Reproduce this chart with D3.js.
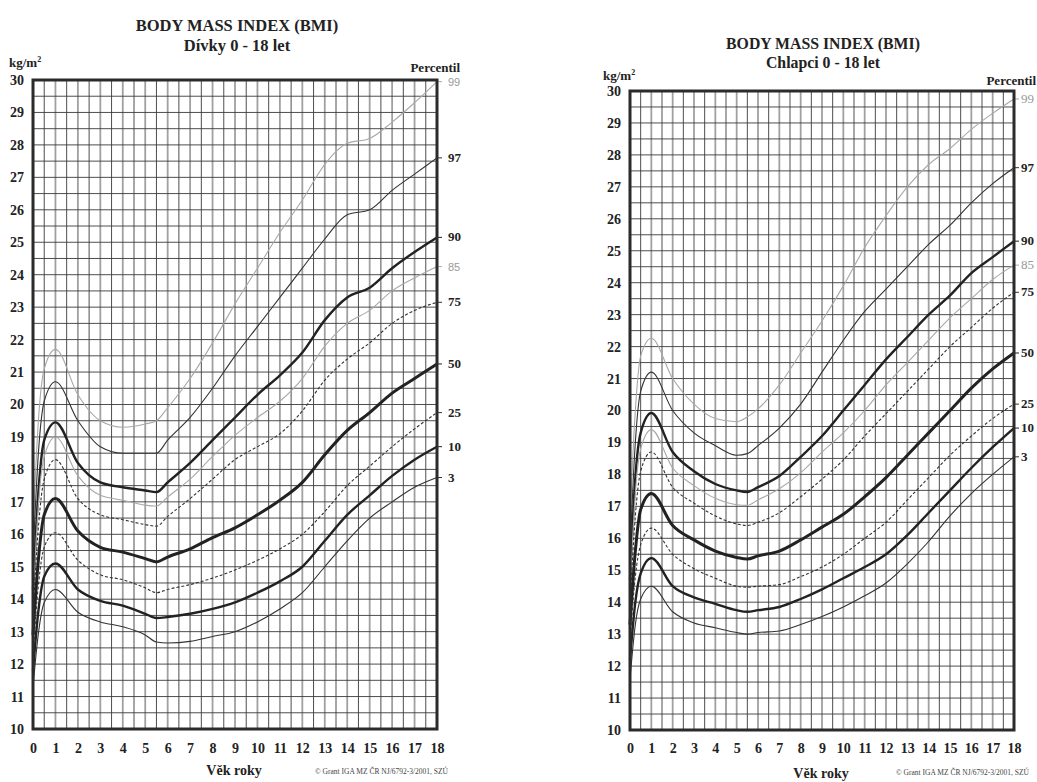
<!DOCTYPE html>
<html>
<head>
<meta charset="utf-8">
<script src="https://cdn.jsdelivr.net/npm/d3@7"></script>
<style>
  body { margin: 0; background: #fff; }
</style>
</head>
<body>
<script>
var ages = [0, 0.25, 0.5, 1, 2, 3, 4, 5, 5.5, 6, 7, 8, 9, 10, 11, 12, 13, 14, 15, 16, 17, 18];
var percentiles = [99, 97, 90, 85, 75, 50, 25, 10, 3];
var xTicks = d3.range(0, 19);
var yTicks = d3.range(10, 31);

// girls - Dívky
var girlsP99 = [16.2, 19.6, 21.1, 21.7, 20.3, 19.5, 19.3, 19.4, 19.5, 19.9, 20.8, 21.9, 23.1, 24.2, 25.3, 26.3, 27.4, 28.05, 28.2, 28.7, 29.3, 29.95];
var girlsP97 = [15.3, 18.6, 20.1, 20.7, 19.5, 18.7, 18.5, 18.5, 18.5, 18.9, 19.6, 20.5, 21.5, 22.4, 23.3, 24.2, 25.1, 25.85, 26.0, 26.6, 27.1, 27.6];
var girlsP90 = [14.3, 17.4, 18.9, 19.45, 18.2, 17.6, 17.45, 17.35, 17.3, 17.6, 18.2, 18.9, 19.6, 20.3, 20.9, 21.6, 22.6, 23.3, 23.6, 24.2, 24.7, 25.15];
var girlsP85 = [14.0, 17.0, 18.4, 19.0, 17.8, 17.2, 17.05, 16.9, 16.87, 17.15, 17.7, 18.4, 19.05, 19.6, 20.1, 20.8, 21.8, 22.5, 22.9, 23.5, 23.9, 24.25];
var girlsP75 = [13.5, 16.3, 17.7, 18.3, 17.1, 16.6, 16.45, 16.3, 16.25, 16.55, 17.1, 17.7, 18.3, 18.7, 19.1, 19.8, 20.75, 21.4, 21.9, 22.5, 22.9, 23.15];
var girlsP50 = [12.9, 15.3, 16.6, 17.1, 16.1, 15.6, 15.45, 15.25, 15.15, 15.3, 15.55, 15.9, 16.2, 16.6, 17.05, 17.6, 18.45, 19.2, 19.75, 20.35, 20.8, 21.25];
var girlsP25 = [12.3, 14.5, 15.6, 16.05, 15.2, 14.75, 14.6, 14.35, 14.2, 14.3, 14.45, 14.65, 14.9, 15.2, 15.55, 16.0, 16.7, 17.5, 18.1, 18.7, 19.25, 19.75];
var girlsP10 = [11.8, 13.7, 14.7, 15.1, 14.3, 13.95, 13.8, 13.55, 13.42, 13.45, 13.55, 13.7, 13.9, 14.2, 14.55, 15.0, 15.8, 16.6, 17.2, 17.8, 18.3, 18.7];
var girlsP3  = [11.3, 13.0, 13.9, 14.3, 13.6, 13.3, 13.15, 12.9, 12.68, 12.65, 12.7, 12.85, 13.0, 13.3, 13.7, 14.2, 15.0, 15.8, 16.5, 17.0, 17.45, 17.75];

// boys - Chlapci
var boysP99 = [16.6, 20.0, 21.7, 22.26, 21.0, 20.2, 19.75, 19.65, 19.8, 20.05, 20.8, 21.8, 22.8, 23.9, 25.1, 26.1, 27.0, 27.7, 28.2, 28.8, 29.3, 29.75];
var boysP97 = [15.6, 19.0, 20.6, 21.2, 20.0, 19.3, 18.9, 18.6, 18.65, 18.9, 19.45, 20.2, 21.2, 22.2, 23.1, 23.8, 24.5, 25.2, 25.8, 26.5, 27.1, 27.6];
var boysP90 = [14.7, 17.9, 19.3, 19.92, 18.7, 18.1, 17.7, 17.5, 17.45, 17.6, 17.95, 18.55, 19.2, 20.0, 20.8, 21.6, 22.3, 23.0, 23.6, 24.3, 24.8, 25.3];
var boysP85 = [14.3, 17.4, 18.8, 19.4, 18.2, 17.65, 17.25, 17.05, 17.03, 17.2, 17.55, 18.05, 18.7, 19.3, 20.0, 20.8, 21.5, 22.2, 22.9, 23.5, 24.1, 24.55];
var boysP75 = [13.9, 16.7, 18.1, 18.7, 17.6, 17.1, 16.7, 16.45, 16.4, 16.5, 16.8, 17.3, 17.85, 18.45, 19.2, 19.9, 20.6, 21.3, 22.0, 22.6, 23.2, 23.7];
var boysP50 = [13.3, 15.6, 16.9, 17.4, 16.4, 15.95, 15.6, 15.4, 15.35, 15.45, 15.6, 15.95, 16.35, 16.75, 17.3, 17.9, 18.6, 19.3, 20.0, 20.7, 21.3, 21.8];
var boysP25 = [12.8, 14.8, 15.8, 16.32, 15.5, 15.05, 14.75, 14.5, 14.47, 14.5, 14.55, 14.8, 15.1, 15.5, 16.0, 16.5, 17.2, 17.9, 18.6, 19.2, 19.75, 20.2];
var boysP10 = [12.2, 14.0, 14.9, 15.38, 14.5, 14.15, 13.95, 13.75, 13.7, 13.75, 13.85, 14.1, 14.4, 14.75, 15.1, 15.5, 16.1, 16.8, 17.5, 18.2, 18.85, 19.45];
var boysP3  = [11.6, 13.3, 14.1, 14.5, 13.7, 13.35, 13.2, 13.05, 13.0, 13.05, 13.1, 13.3, 13.55, 13.85, 14.2, 14.6, 15.2, 15.9, 16.7, 17.4, 18.0, 18.55];

var girls = [girlsP99, girlsP97, girlsP90, girlsP85, girlsP75, girlsP50, girlsP25, girlsP10, girlsP3];
var boys = [boysP99, boysP97, boysP90, boysP85, boysP75, boysP50, boysP25, boysP10, boysP3];

// line look per percentile
var lineStyle = {
  99: {stroke: "#a8a8a8", width: 1.1, dash: null, label: "#999", light: true},
  97: {stroke: "#333", width: 1.1, dash: null, label: "#222"},
  90: {stroke: "#222", width: 2.4, dash: null, label: "#222"},
  85: {stroke: "#a8a8a8", width: 1.1, dash: null, label: "#999", light: true},
  75: {stroke: "#333", width: 1.1, dash: "3,2", label: "#222"},
  50: {stroke: "#222", width: 3, dash: null, label: "#222"},
  25: {stroke: "#333", width: 1.1, dash: "3,2", label: "#222"},
  10: {stroke: "#222", width: 2.4, dash: null, label: "#222"},
  3:  {stroke: "#333", width: 1.1, dash: null, label: "#222"}
};

var SERIF = "'Liberation Serif', 'Times New Roman', Times, 'DejaVu Serif', serif";
var SANS = "'Liberation Sans', Arial, sans-serif";

var width = 1037, height = 782;

var svg = d3.select("body").append("svg")
    .attr("width", width)
    .attr("height", height)
    .style("font-family", SERIF);

var panels = [
  {series: girls, sub: "Dívky 0 - 18 let", left: 33, right: 437, top: 80, bottom: 729,
   titleX: 237, title1Y: 31, title2Y: 51, titleSize: 16.5,
   unitX: 9, unitY: 67, pctX: 460, pctY: 72, labX: 448, sansLight: true,
   xLabY: 754, vekY: 775, vekX: 234, copyX: 315, copyY: 774},
  {series: boys, sub: "Chlapci 0 - 18 let", left: 630, right: 1014, top: 91, bottom: 730,
   titleX: 823, title1Y: 49, title2Y: 68, titleSize: 15.8,
   unitX: 603, unitY: 80, pctX: 1036, pctY: 85, labX: 1021, sansLight: false,
   xLabY: 754, vekY: 778, vekX: 821, copyX: 896, copyY: 775}
];

panels.forEach(drawPanel);

function drawPanel(p) {
  var x = d3.scaleLinear().domain([0, 18]).range([p.left, p.right]);
  var y = d3.scaleLinear().domain([10, 30]).range([p.bottom, p.top]);
  var g = svg.append("g");

  // grid: half-year verticals, every year a lighter wider line
  g.selectAll("line.v")
    .data(d3.range(1, 36).map(function(d) { return d / 2; }))
    .enter().append("line")
      .attr("x1", function(d) { return x(d); })
      .attr("x2", function(d) { return x(d); })
      .attr("y1", y(30)).attr("y2", y(10))
      .attr("stroke", function(d) { return d % 1 === 0 ? "#a0a0a0" : "#3a3a3a"; })
      .attr("stroke-width", function(d) { return d % 1 === 0 ? 1.8 : 0.9; });

  g.selectAll("line.h")
    .data(d3.range(21, 60).map(function(d) { return d / 2; }))
    .enter().append("line")
      .attr("x1", x(0)).attr("x2", x(18))
      .attr("y1", function(d) { return y(d); })
      .attr("y2", function(d) { return y(d); })
      .attr("stroke", "#3a3a3a")
      .attr("stroke-width", 0.9);

  // curves
  var line = d3.line()
      .x(function(d, i) { return x(ages[i]); })
      .y(function(d) { return y(d); })
      .curve(d3.curveMonotoneX);

  p.series.forEach(function(vals, k) {
    var pc = percentiles[k], st = lineStyle[pc];
    g.append("path")
      .datum(vals)
      .attr("d", line)
      .attr("fill", "none")
      .attr("stroke", st.stroke)
      .attr("stroke-width", st.width)
      .attr("stroke-dasharray", st.dash)
      .attr("stroke-linejoin", "round");

    var last = vals[vals.length - 1];
    g.append("line")
      .attr("x1", x(18)).attr("x2", x(18) + 5)
      .attr("y1", y(last)).attr("y2", y(last))
      .attr("stroke", st.stroke).attr("stroke-width", 1);

    var sans = st.light && p.sansLight;
    g.append("text")
      .attr("x", p.labX)
      .attr("y", y(last) + 4)
      .attr("fill", st.label)
      .attr("font-size", sans ? 11 : 13)
      .attr("font-weight", st.light ? "normal" : "bold")
      .style("font-family", sans ? SANS : SERIF)
      .text(pc);
  });

  // frame
  g.append("rect")
    .attr("x", x(0)).attr("y", y(30))
    .attr("width", x(18) - x(0)).attr("height", y(10) - y(30))
    .attr("fill", "none").attr("stroke", "#2b2b2b").attr("stroke-width", 3);

  // axes labels
  var yAxis = d3.axisLeft(y).tickValues(yTicks).tickSize(0).tickPadding(9);
  var ya = g.append("g").attr("transform", "translate(" + p.left + ",0)").call(yAxis);
  ya.select(".domain").remove();
  ya.selectAll("text")
    .attr("font-size", 14).attr("font-weight", "bold").attr("fill", "#222")
    .style("font-family", SERIF);

  var xAxis = d3.axisBottom(x).tickValues(xTicks).tickSize(0).tickPadding(0);
  var xa = g.append("g").attr("transform", "translate(0," + (p.xLabY - 11) + ")").call(xAxis);
  xa.select(".domain").remove();
  xa.selectAll("text")
    .attr("font-size", 14).attr("font-weight", "bold").attr("fill", "#222")
    .style("font-family", SERIF);

  // titles
  g.append("text").attr("x", p.titleX).attr("y", p.title1Y)
    .attr("text-anchor", "middle").attr("font-weight", "bold")
    .attr("font-size", p.titleSize).attr("fill", "#222")
    .text("BODY MASS INDEX (BMI)");
  g.append("text").attr("x", p.titleX).attr("y", p.title2Y)
    .attr("text-anchor", "middle").attr("font-weight", "bold")
    .attr("font-size", p.titleSize).attr("fill", "#222")
    .text(p.sub);

  var unit = g.append("text").attr("x", p.unitX).attr("y", p.unitY)
    .attr("font-weight", "bold").attr("font-size", 13).attr("fill", "#222");
  unit.append("tspan").text("kg/m");
  unit.append("tspan").attr("dy", -5).attr("font-size", 8).text("2");

  g.append("text").attr("x", p.pctX).attr("y", p.pctY)
    .attr("text-anchor", "end").attr("font-weight", "bold")
    .attr("font-size", 13).attr("fill", "#222").text("Percentil");

  g.append("text").attr("x", p.vekX).attr("y", p.vekY)
    .attr("text-anchor", "middle").attr("font-weight", "bold")
    .attr("font-size", 14).attr("fill", "#222").text("Věk roky");

  g.append("text").attr("x", p.copyX).attr("y", p.copyY)
    .attr("font-size", 7.5).attr("fill", "#444")
    .text("© Grant IGA MZ ČR NJ/6792-3/2001, SZÚ");
}
</script>
</body>
</html>
